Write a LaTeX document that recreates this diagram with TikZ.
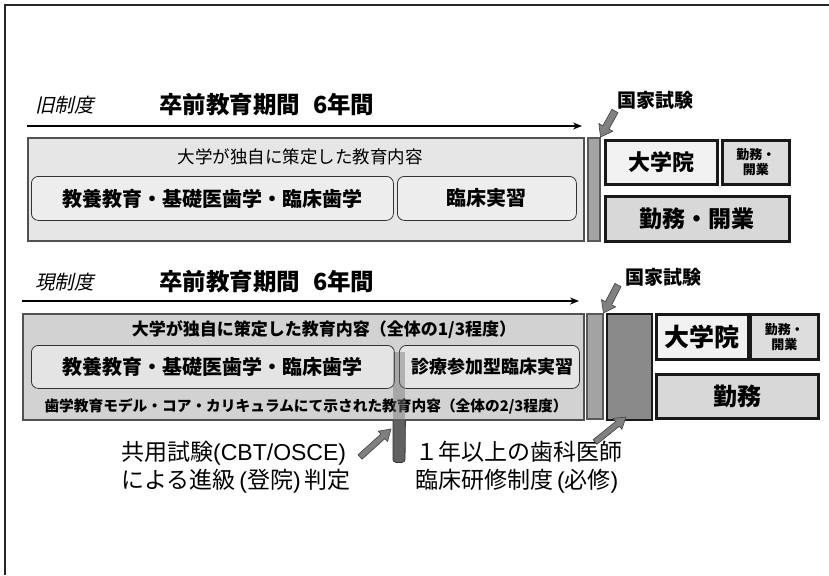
\documentclass[tikz,border=0pt]{standalone}
\usepackage{fontspec}
\setmainfont{Noto Sans CJK JP}
\newfontfamily\slfont[FakeSlant=0.22]{Noto Sans CJK JP}
\newfontfamily\latfont{Liberation Sans}
\usetikzlibrary{calc,arrows.meta}
\definecolor{boxA}{HTML}{E6E6E6}
\definecolor{boxB}{HTML}{D2D2D2}
\definecolor{inA}{HTML}{EDEDED}
\definecolor{inB}{HTML}{E4E4E4}
\definecolor{barC}{HTML}{A3A3A3}
\definecolor{trC}{HTML}{8A8A8A}
\definecolor{lightC}{HTML}{F2F2F2}
\definecolor{workC}{HTML}{D8D8D8}
\definecolor{smallC}{HTML}{DDDDDD}
\newcommand\fs[1]{\fontsize{#1}{#1}\selectfont}
\newcommand\hp[1]{{\latfont #1}}
\newcommand\blkarrow[4]{% start, tip, half shaft, half head
  \coordinate (ba-h) at ($(#2)!11pt!(#1)$);
  \draw[blockarrow] ($(#1)!#3!90:(#2)$) -- ($(ba-h)!#3!90:(#2)$) -- ($(ba-h)!#4!90:(#2)$) -- (#2)
    -- ($(ba-h)!#4!-90:(#2)$) -- ($(ba-h)!#3!-90:(#2)$) -- ($(#1)!#3!-90:(#2)$) -- cycle;}
\tikzset{
  bigbox/.style={draw=black!68, line width=2.4pt, inner sep=0pt, anchor=north west},
  inbox/.style={draw=black!80, line width=0.8pt, rounded corners=7pt, inner sep=0pt, anchor=north west},
  exambar/.style={draw=black!65, line width=1.5pt, fill=barC, inner sep=0pt, anchor=north west},
  thickbox/.style={draw=black!90, line width=2.6pt, inner sep=0pt, anchor=north west},
  timearrow/.style={line width=1.5pt, -{Stealth[length=9pt,width=7pt]}},
  blockarrow/.style={fill=black!50, draw=black!75, line width=0.6pt, line join=round},
  titletxt/.style={font=\bfseries\fs{23.5}, anchor=west, inner sep=0pt},
  systxt/.style={font=\slfont\fs{19.5}, anchor=west, inner sep=0pt},
  examtxt/.style={font=\bfseries\fs{19}, inner sep=0pt},
  notetxt/.style={font=\fontsize{23}{28}\selectfont, align=left, anchor=west, inner sep=0pt},
  smalltxt/.style={font=\bfseries\fontsize{13}{15}\selectfont, align=center}
}
\begin{document}
\begin{tikzpicture}[x=1pt,y=-1pt]
\useasboundingbox (0,0) rectangle (829,575);
% frame
\coordinate (fbl) at (5,575); \coordinate (ftl) at (5,5); \coordinate (ftr) at (829,5);
\draw[line width=1.6pt, black!85] (fbl) -- (ftl) -- (ftr);

% ================= old system =================
\node[systxt] (old) at (35,105) {旧制度};
\node[titletxt] (t1) at (159,105) {卒前教育期間\hspace{0.55em}6年間};
\coordinate (a1s) at (27,126); \coordinate (a1e) at (582,126);
\draw[timearrow] (a1s) -- (a1e);

\node[bigbox, fill=boxA, minimum width=556pt, minimum height=103pt] (obox) at (27,137) {};
\node[font=\fs{17.5}] (otxt) at (300,157) {大学が独自に策定した教育内容};
\node[inbox, fill=inA, minimum width=362pt, minimum height=44pt, font=\bfseries\fs{20}] (ob1) at (31,176) {教養教育・基礎医歯学・臨床歯学};
\node[inbox, fill=inA, minimum width=179pt, minimum height=44pt, font=\bfseries\fs{20}] (ob2) at (397,176) {臨床実習};
\node[exambar, minimum width=12pt, minimum height=103pt] (ex1) at (587,137) {};

\node[examtxt] (kk1) at (655,100) {国家試験};
\coordinate (k1s) at (615,111);
\blkarrow{k1s}{ex1.north east}{3.5pt}{8pt}

\node[thickbox, fill=lightC, minimum width=112pt, minimum height=44pt, font=\bfseries\fs{22}] (grad1) at (604,139) {大学院};
\node[thickbox, fill=smallC, minimum width=67pt, minimum height=44pt, smalltxt] (ws1) at (721,139) {勤務・\\開業};
\node[thickbox, fill=workC, minimum width=184pt, minimum height=45pt, font=\bfseries\fs{23}] (wk1) at (604,195) {勤務・開業};

% ================= new system =================
\node[systxt] (new) at (35,282) {現制度};
\node[titletxt] (t2) at (159,282) {卒前教育期間\hspace{0.55em}6年間};
\coordinate (a2s) at (22,301); \coordinate (a2e) at (579,301);
\draw[timearrow] (a2s) -- (a2e);

\node[bigbox, fill=boxB, minimum width=561pt, minimum height=106pt] (nbox) at (22,313) {};
\node[font=\bfseries\fs{17}] (ntxt) at (324,330) {大学が独自に策定した教育内容（全体の1/3程度）};
\node[inbox, fill=inB, minimum width=363pt, minimum height=43pt, font=\bfseries\fs{20}] (nb1) at (31,345) {教養教育・基礎医歯学・臨床歯学};
\node[inbox, fill=inB, minimum width=180pt, minimum height=43pt, font=\bfseries\fs{18}] (nb2) at (399,345) {\hspace{6pt}診療参加型臨床実習};
\node[font=\bfseries\fs{14.7}] (ctxt) at (306,406) {歯学教育モデル・コア・カリキュラムにて示された教育内容（全体の2/3程度）};

% CBT bar
\node[fill=black!55, fill opacity=0.45, inner sep=0pt, minimum width=12pt, minimum height=68pt, anchor=north west] (cbtin) at (393,352) {};
\draw[fill=black!62, draw=black!80, line width=0.8pt, rounded corners=3pt] (cbtin.south west) -- ++(0,42) -- ++(12,0) -- (cbtin.south east);
\node[inner sep=0pt, minimum width=12pt, minimum height=42pt, anchor=north west] (cbt) at (393,420) {};

\node[exambar, minimum width=16pt, minimum height=105pt] (ex2) at (586,313) {};
\node[draw=black!90, line width=2pt, fill=trC, inner sep=0pt, anchor=north west, minimum width=45pt, minimum height=106pt] (tr) at (606,313) {};

\node[examtxt] (kk2) at (663,277) {国家試験};
\coordinate (k2s) at (618,285);
\blkarrow{k2s}{ex2.north east}{3.5pt}{8pt}

\node[thickbox, fill=lightC, minimum width=92pt, minimum height=45pt, font=\bfseries\fs{25}] (grad2) at (655,313) {大学院};
\node[thickbox, fill=smallC, minimum width=68pt, minimum height=45pt, smalltxt] (ws2) at (749,313) {勤務・\\開業};
\node[thickbox, fill=workC, minimum width=162pt, minimum height=44pt, font=\bfseries\fs{24}] (wk2) at (655,373) {勤務};

% notes
\node[notetxt] (cbtnote) at (121,467) {共用試験\hp{(CBT/OSCE)}\\による進級\,\hp{(}登院\hp{)}\,判定};
\coordinate (c1s) at (360,457); \coordinate (c1e) at (391,429);
\blkarrow{c1s}{c1e}{3pt}{7pt}

\node[notetxt] (trnote) at (415,467) {１年以上の歯科医師\\臨床研修制度\,\hp{(}必修\hp{)}};
\coordinate (c2s) at (595,442); \coordinate (c2e) at (626,417);
\blkarrow{c2s}{c2e}{3pt}{7pt}
\end{tikzpicture}
\end{document}
